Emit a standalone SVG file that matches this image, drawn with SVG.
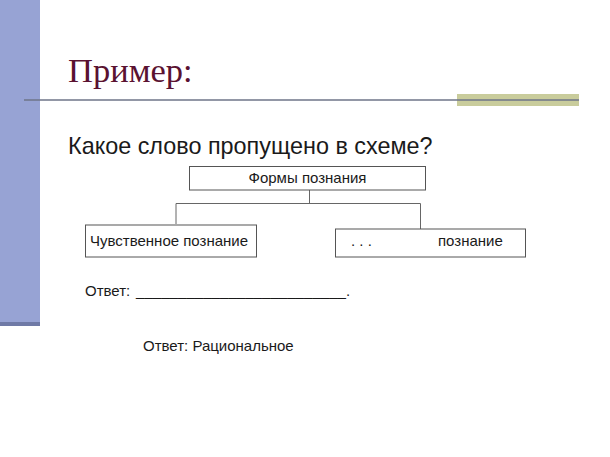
<svg xmlns="http://www.w3.org/2000/svg" width="610" height="457" viewBox="0 0 610 457">
<style>
.t{font-family:"Liberation Sans",Arial,sans-serif;fill:#1a1a1a;font-size:15px}
.box{fill:#fff;stroke:#555;stroke-width:1}
.con{fill:none;stroke:#666;stroke-width:1}
</style>
<rect width="610" height="457" fill="#fff"/>
<g id="decor">
<rect x="0" y="0" width="40" height="326" fill="#97a3d4"/>
<rect x="0" y="322" width="40" height="4" fill="#6f7aa6"/>
<rect x="457" y="94" width="122" height="12" fill="#c9cc9c"/>
<line x1="24" y1="100" x2="579" y2="100" stroke="#6e7488" stroke-width="1.5"/>
</g>
<text id="title" x="68" y="82" font-family="'Liberation Serif','Times New Roman',serif" font-size="34.5" fill="#5a1231">Пример:</text>
<text id="question" class="t" x="68" y="154" style="font-size:23.4px">Какое слово пропущено в схеме?</text>
<g id="connectors">
<path class="con" d="M309.5 190 V203.5 M176 224 V203.5 H420.5 V229"/>
</g>
<g id="n-forms">
<rect class="box" x="189.5" y="166.5" width="236" height="23.5"/>
<text class="t" x="307.5" y="183" text-anchor="middle">Формы познания</text>
</g>
<g id="n-sense">
<rect class="box" x="85.5" y="225" width="171" height="32"/>
<text class="t" x="90" y="246">Чувственное познание</text>
</g>
<g id="n-missing">
<rect class="box" x="335.5" y="229" width="190" height="28"/>
<text class="t" x="351" y="246">. . .</text>
<text class="t" x="438" y="246">познание</text>
</g>
<text id="answer-blank" class="t" x="85" y="296">Ответ: <tspan x="136" textLength="210" lengthAdjust="spacingAndGlyphs">_________________________</tspan>.</text>
<text id="answer" class="t" x="143" y="351">Ответ: Рациональное</text>
</svg>
